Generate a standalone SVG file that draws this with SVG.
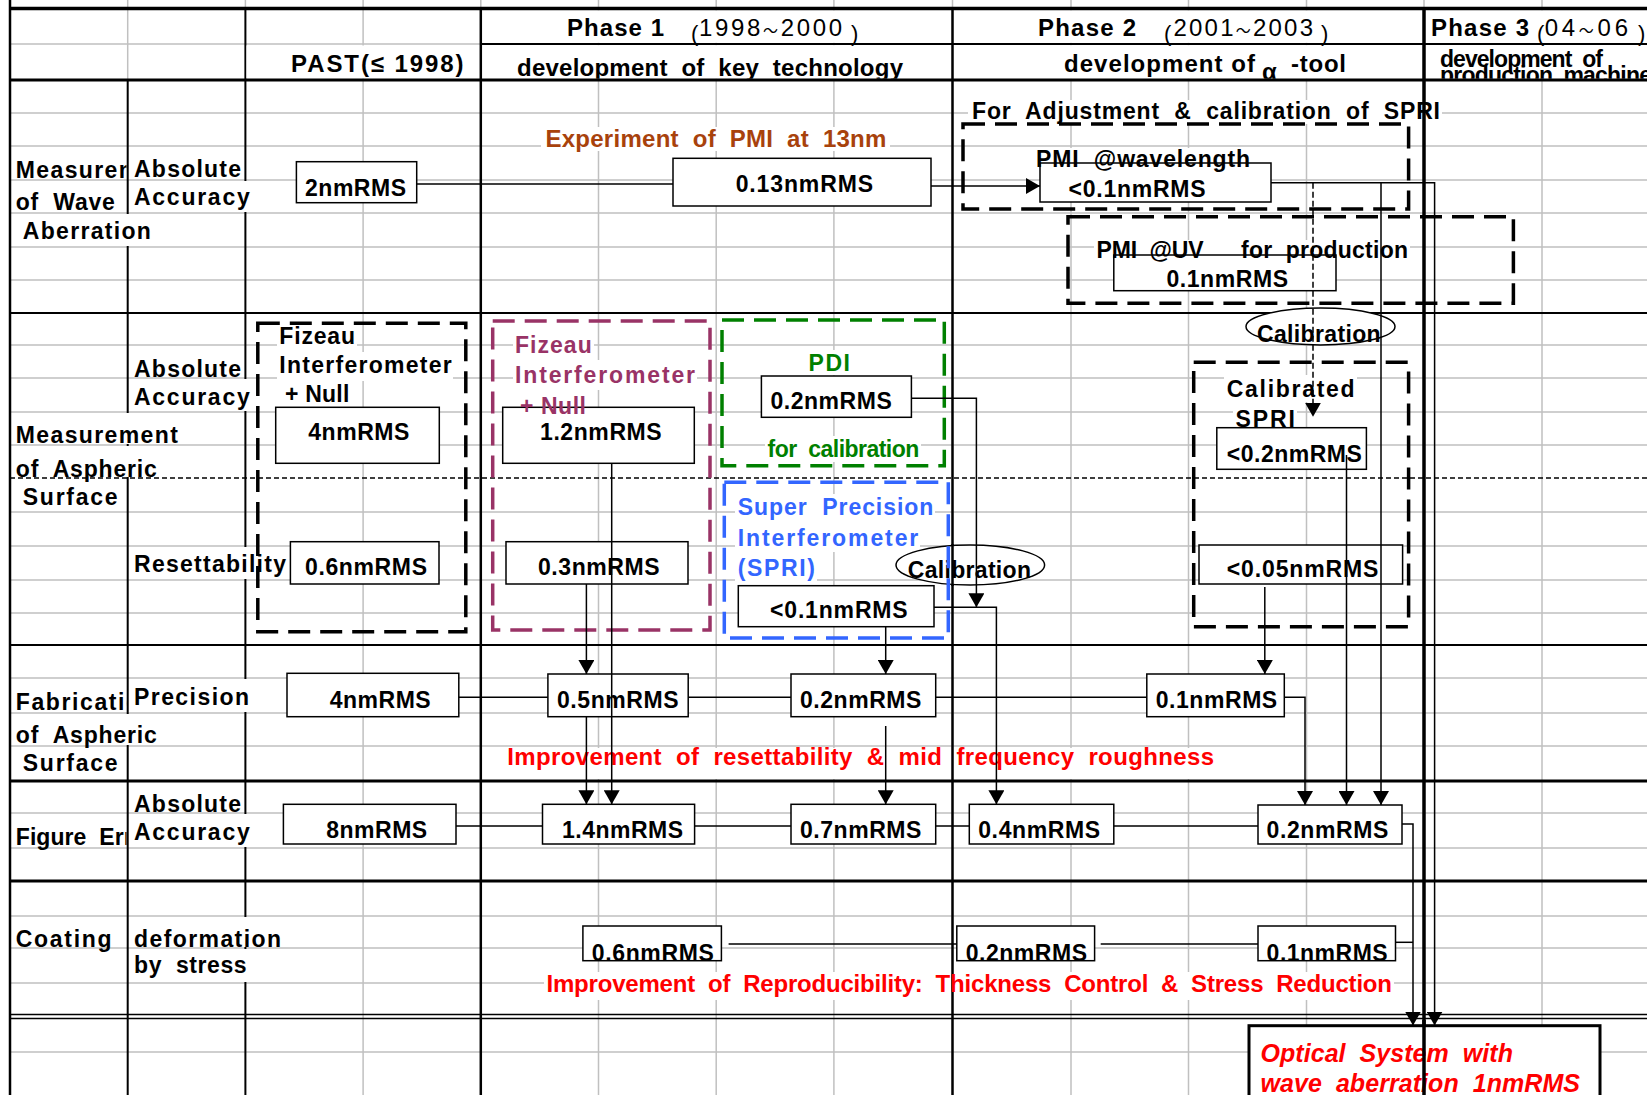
<svg xmlns="http://www.w3.org/2000/svg" width="1647" height="1095" viewBox="0 0 1647 1095" xml:space="preserve">
<defs>
<style>
.g{stroke:#C0C0C0;stroke-width:1.5;fill:none}
.k{stroke:#000;stroke-width:2;fill:none}
.m{fill:#fff;stroke:none}
.t{font-family:"Liberation Sans",Arial,"Noto Sans CJK KR",sans-serif;font-size:23px;font-weight:bold;fill:#000;white-space:pre}
.h{font-size:24px}
.n{font-weight:normal}
.ps{font-size:22px;font-weight:normal}
.tl{font-size:15px}
.box{fill:#fff;stroke:#000;stroke-width:1.5}
.cn{fill:none;stroke:#000;stroke-width:1.5}
.dash{fill:none;stroke-width:3.5;stroke-dasharray:22 10}
.red{fill:#FF0000}
.brn{fill:#A8420C}
.mag{fill:#993366}
.grn{fill:#008000}
.blu{fill:#3366FF}
</style>
<marker id="ah" viewBox="0 0 14 16" refX="14" refY="8" markerWidth="14" markerHeight="16" markerUnits="userSpaceOnUse" orient="auto"><path d="M0,0 L14,8 L0,16 z" fill="#000"/></marker>
<clipPath id="clipL"><rect x="0" y="0" width="126.5" height="1095"/></clipPath>
<clipPath id="clipH"><rect x="0" y="45" width="1647" height="33.8"/></clipPath>
</defs>
<rect x="0" y="0" width="1647" height="1095" fill="#fff"/>

<g id="grid-gray" class="g">
<path d="M127.7,0V80M363.1,0V1095M598.5,0V1095M716.2,0V1095M833.9,0V1095M1071,0V1095M1188.5,0V1095M1306.5,0V1095M1542,0V1095M245.4,0V9M480.8,0V9M952.5,0V9M1424,0V9"/>
<path d="M10,44H481M10,113H1647M10,146H1647M10,180H1647M10,213H1647M10,247H1647M10,280H1647M10,345H1647M10,378H1647M10,412H1647M10,445H1647M10,512H1647M10,546H1647M10,580H1647M10,613H1647M10,678H1647M10,713H1647M10,746H1647M10,813H1647M10,848H1647M10,916H1647M10,948H1647M10,983H1647M10,1052H1647"/>
</g>
<g id="grid-black-under" class="k">
<path d="M127.7,80V1095M245.4,8.5V1095"/>
</g>

<g id="overflow-masks" class="m">
<rect x="246.5" y="45.5" width="233" height="33"/>
<rect x="482" y="10.3" width="469.5" height="32.5"/><rect x="482" y="45.2" width="469.5" height="33.6"/>
<rect x="954" y="10.3" width="468.5" height="32.5"/><rect x="954" y="45.2" width="468.5" height="33.6"/>
<rect x="1426" y="10.3" width="221" height="32.5"/><rect x="1426" y="45.2" width="221" height="33.6"/>
<rect x="129" y="181" width="123" height="31"/>
<rect x="11" y="214" width="150" height="32"/>
<rect x="129" y="379" width="123" height="32"/>
<rect x="11" y="413" width="171" height="31"/>
<rect x="11" y="446" width="150" height="31"/>
<rect x="129" y="547" width="161" height="32"/>
<rect x="129" y="679" width="123" height="33"/>
<rect x="11" y="714" width="150" height="31"/>
<rect x="129" y="814" width="123" height="33"/>
<rect x="129" y="917" width="155" height="30"/>
<rect x="129" y="949" width="121" height="33"/>
<rect x="541" y="127" width="349" height="24"/>
<rect x="968" y="100" width="474" height="24"/>
<rect x="1033" y="148" width="220" height="15"/>
<rect x="1094" y="240" width="316" height="15"/>
<rect x="277" y="326" width="80" height="26"/><rect x="277" y="352" width="176" height="29"/><rect x="283" y="381" width="68" height="26"/>
<rect x="513" y="335" width="81" height="25"/><rect x="513" y="360" width="184" height="30"/><rect x="518" y="390" width="70" height="17"/>
<rect x="806" y="350" width="46" height="25"/><rect x="765" y="436" width="156" height="26"/>
<rect x="735" y="494" width="200" height="27"/><rect x="735" y="521" width="185" height="31"/><rect x="735" y="552" width="82" height="31"/>
<rect x="1224" y="375" width="133" height="27"/><rect x="1233" y="404" width="64" height="23"/>
<rect x="505" y="748" width="712" height="31"/>
<rect x="544" y="972" width="850" height="28"/>
</g>

<g id="grid-black" class="k">
<path d="M10,0V1095M480.8,8.5V1095M952.5,8.5V1095" stroke-width="2.5"/>
<path d="M1424,8.5V1095" stroke-width="3.5"/>
<path d="M10,8.5H1647" stroke-width="3.5"/>
<path d="M481,44H1647" stroke-width="2"/>
<path d="M10,80H1647M10,781H1647M10,881H1647" stroke-width="3"/>
<path d="M10,313H1647M10,645H1647" stroke-width="2"/>
<path d="M10,478H1647" stroke-width="1.5" stroke-dasharray="5 3"/>
<path d="M10,1014.5H1647M10,1018.5H1647" stroke-width="1.5"/>
</g>

<g id="header">
<text class="t h" x="567" y="36" textLength="97">Phase 1</text>
<text class="t ps" x="691" y="41">(</text>
<text class="t h n" x="699" y="35.5" textLength="143">1998<tspan class="tl">～</tspan>2000</text>
<text class="t ps" x="851" y="41">)</text>
<text class="t h" x="291" y="72" textLength="172.5">PAST(≤ 1998)</text>
<text class="t h" x="517" y="76" textLength="386" clip-path="url(#clipH)">development  of  key  technology</text>
<text class="t h" x="1038" y="36" textLength="98">Phase 2</text>
<text class="t ps" x="1164" y="41">(</text>
<text class="t h n" x="1173.5" y="35.5" textLength="139.5">2001<tspan class="tl">～</tspan>2003</text>
<text class="t ps" x="1321" y="41">)</text>
<g clip-path="url(#clipH)">
<text class="t h" x="1064" y="71.7" textLength="191">development of</text>
<text class="t h" x="1262" y="80">α</text>
<text class="t h" x="1291" y="71.7" textLength="55">-tool</text>
</g>
<text class="t h" x="1431" y="36" textLength="98">Phase 3</text>
<text class="t ps" x="1537" y="41">(</text>
<text class="t h n" x="1544.7" y="35.5" textLength="83.3">04<tspan class="tl">～</tspan>06</text>
<text class="t ps" x="1638" y="41">)</text>
<g clip-path="url(#clipH)">
<text class="t" x="1440" y="67" textLength="163">development  of</text>
<text class="t" x="1440" y="83" textLength="212">production  machine</text>
</g>
</g>

<g id="row-labels">
<text class="t" x="15.8" y="178" textLength="162" clip-path="url(#clipL)">Measurement</text>
<text class="t" x="15.8" y="210" textLength="99">of  Wave</text>
<text class="t" x="22.8" y="239" textLength="128">Aberration</text>
<text class="t" x="134" y="177" textLength="107">Absolute</text>
<text class="t" x="134" y="205" textLength="115.7">Accuracy</text>
<text class="t" x="134" y="376.7" textLength="107">Absolute</text>
<text class="t" x="134" y="405" textLength="115.7">Accuracy</text>
<text class="t" x="15.8" y="443" textLength="162">Measurement</text>
<text class="t" x="15.8" y="476.5" textLength="141">of  Aspheric</text>
<text class="t" x="22.8" y="505" textLength="94.7">Surface</text>
<text class="t" x="134" y="571.7" textLength="152">Resettability</text>
<text class="t" x="15.8" y="710" textLength="140" clip-path="url(#clipL)">Fabrication</text>
<text class="t" x="134" y="705" textLength="115">Precision</text>
<text class="t" x="15.8" y="743" textLength="141">of  Aspheric</text>
<text class="t" x="22.8" y="771" textLength="94.7">Surface</text>
<text class="t" x="134" y="812" textLength="107">Absolute</text>
<text class="t" x="134" y="840" textLength="115.7">Accuracy</text>
<text class="t" x="15.8" y="845" textLength="140" clip-path="url(#clipL)">Figure  Error</text>
<text class="t" x="15.8" y="946.7" textLength="95.7">Coating</text>
<text class="t" x="134" y="946.7" textLength="147">deformation</text>
<text class="t" x="134" y="973" textLength="112.6">by  stress</text>
</g>

<g id="calibration-ellipses">
<g id="calib-upper"><ellipse cx="1320.5" cy="326.5" rx="74.5" ry="18.5" fill="#fff" stroke="#000" stroke-width="1.5"/>
<text class="t" x="1257" y="341.7" textLength="123.6">Calibration</text></g>
<g id="calib-lower"><ellipse cx="970.3" cy="565" rx="74.3" ry="20" fill="#fff" stroke="#000" stroke-width="1.5"/>
<text class="t" x="907.7" y="578.3" textLength="123.3">Calibration</text></g>
</g>

<g id="pmi-adjust">
<path class="dash" stroke="#000" d="M963,124H1408.6V209H963Z"/>
<text class="t" x="972" y="119" textLength="468">For  Adjustment  &amp;  calibration  of  SPRI</text>
<rect class="box" x="1040" y="163" width="231" height="39"/>
<text class="t" x="1036" y="166.7" textLength="214">PMI  @wavelength</text>
<text class="t" x="1068.6" y="196.7" textLength="137">&lt;0.1nmRMS</text>
</g>
<g id="pmi-uv">
<path class="dash" stroke="#000" d="M1068,216.7H1513.4V303.3H1068Z"/>
<rect class="box" x="1113.8" y="255" width="222.2" height="35.7"/>
<text class="t" x="1096.6" y="258" textLength="107">PMI  @UV</text>
<text class="t" x="1241" y="258" textLength="167">for  production</text>
<text class="t" x="1166.4" y="287" textLength="121.6">0.1nmRMS</text>
</g>

<g id="past-wave"><rect class="box" x="296.4" y="161.7" width="120.3" height="41"/>
<text class="t" x="305" y="196" textLength="101">2nmRMS</text></g>
<g id="phase1-wave"><rect class="box" x="673" y="158.3" width="258" height="47.7"/>
<text class="t" x="735.7" y="191.7" textLength="137.3">0.13nmRMS</text></g>
<text id="pmi-experiment" class="t h brn" x="545.4" y="146.7" textLength="341">Experiment  of  PMI  at  13nm</text>

<g id="fizeau-past">
<path class="dash" stroke="#000" d="M257.8,323.3H465.8V631.7H257.8Z"/>
<text class="t" x="279.3" y="344.3" textLength="75.7">Fizeau</text>
<text class="t" x="279.3" y="373.3" textLength="172.4">Interferometer</text>
<text class="t" x="285" y="401.7" textLength="64.3">+ Null</text>
<rect class="box" x="275.7" y="407.3" width="163.6" height="56"/>
<text class="t" x="308.3" y="440" textLength="101">4nmRMS</text>
<rect class="box" x="290.4" y="541.7" width="148.6" height="42.3"/>
<text class="t" x="305" y="575" textLength="122">0.6nmRMS</text>
</g>

<g id="fizeau-phase1">
<path class="dash" stroke="#993366" stroke-width="3" d="M492.7,321H710V630H492.7Z"/>
<rect class="box" x="502.7" y="407.3" width="191.6" height="56"/>
<text class="t mag" x="515" y="353.3" textLength="76.7">Fizeau</text>
<text class="t mag" x="515" y="383.3" textLength="180">Interferometer</text>
<text class="t mag" x="520" y="414" textLength="66">+ Null</text>
<text class="t" x="540" y="440" textLength="121.7">1.2nmRMS</text>
<rect class="box" x="506" y="541.7" width="182" height="42.3"/>
<text class="t" x="538" y="575" textLength="121.6">0.3nmRMS</text>
</g>

<g id="pdi">
<path class="dash" stroke="#008000" stroke-width="3" d="M722,320H944.3V465.7H722Z"/>
<text class="t grn" x="808.6" y="370.7" textLength="41.4">PDI</text>
<rect class="box" x="761.4" y="376" width="150" height="41.3"/>
<text class="t" x="770.4" y="409.3" textLength="121.4">0.2nmRMS</text>
<text class="t grn" x="767.5" y="456.7" textLength="151.8">for  calibration</text>
</g>

<g id="spri">
<path class="dash" stroke="#3366FF" d="M724.3,482.3H948.3V638H724.3Z"/>
<text class="t blu" x="737.7" y="515" textLength="195.6">Super  Precision</text>
<text class="t blu" x="737.7" y="546" textLength="180.6">Interferometer</text>
<text class="t blu" x="737.7" y="576" textLength="77.3">(SPRI)</text>
<rect class="box" x="738.3" y="585.7" width="195.7" height="41"/>
<text class="t" x="770" y="618.3" textLength="137.7">&lt;0.1nmRMS</text>
</g>

<g id="calibrated-spri">
<path class="dash" stroke="#000" d="M1193.7,362.3H1408.6V626.7H1193.7Z"/>
<text class="t" x="1226.8" y="396.7" textLength="127.8">Calibrated</text>
<text class="t" x="1235.6" y="426.7" textLength="59.4">SPRI</text>
<rect class="box" x="1216.8" y="427.7" width="149.6" height="41.6"/>
<text class="t" x="1226.8" y="461.7" textLength="135">&lt;0.2nmRMS</text>
<rect class="box" x="1199" y="545" width="203.6" height="39"/>
<text class="t" x="1226.8" y="576.7" textLength="151.6">&lt;0.05nmRMS</text>
</g>

<g id="fabrication">
<g id="fab-past"><rect class="box" x="287" y="673.3" width="171.8" height="43.4"/><text class="t" x="329.7" y="707.7" textLength="101">4nmRMS</text></g>
<g id="fab-p1a"><rect class="box" x="547.9" y="674" width="140.3" height="42.7"/><text class="t" x="557" y="707.7" textLength="121.6">0.5nmRMS</text></g>
<g id="fab-p1b"><rect class="box" x="791" y="674" width="144.7" height="42.7"/><text class="t" x="800" y="707.7" textLength="121.4">0.2nmRMS</text></g>
<g id="fab-p2"><rect class="box" x="1146.8" y="674" width="137.5" height="42.7"/><text class="t" x="1155.7" y="707.7" textLength="121.5">0.1nmRMS</text></g>
<text class="t h red" x="507.3" y="765" textLength="706.7">Improvement  of  resettability  &amp;  mid  frequency  roughness</text>
</g>

<g id="figure-error">
<g id="fig-past"><rect class="box" x="283.4" y="804.3" width="172.6" height="39.7"/><text class="t" x="326.2" y="838.3" textLength="101">8nmRMS</text></g>
<g id="fig-p1a"><rect class="box" x="542.5" y="804.3" width="152.1" height="39.7"/><text class="t" x="562" y="838.3" textLength="121">1.4nmRMS</text></g>
<g id="fig-p1b"><rect class="box" x="791" y="804.3" width="144.7" height="39.7"/><text class="t" x="800" y="838.3" textLength="121.4">0.7nmRMS</text></g>
<g id="fig-p2a"><rect class="box" x="969.3" y="804.3" width="144.5" height="39.7"/><text class="t" x="978.2" y="838.3" textLength="122">0.4nmRMS</text></g>
<g id="fig-p2b"><rect class="box" x="1258" y="805" width="144" height="39"/><text class="t" x="1266.6" y="838.3" textLength="121.8">0.2nmRMS</text></g>
</g>

<g id="coating">
<g id="coat-p1"><rect class="box" x="582.9" y="926" width="138.5" height="34.7"/><text class="t" x="591.8" y="960.5" textLength="122">0.6nmRMS</text></g>
<g id="coat-p2a"><rect class="box" x="956.8" y="926" width="137.8" height="34.7"/><text class="t" x="965.7" y="960.5" textLength="121.3">0.2nmRMS</text></g>
<g id="coat-p2b"><rect class="box" x="1258" y="926" width="137.5" height="34.7"/><text class="t" x="1266.6" y="960.5" textLength="121.1">0.1nmRMS</text></g>
<text class="t h red" x="546.5" y="991.7" textLength="845.5">Improvement  of  Reproducibility:  Thickness  Control  &amp;  Stress  Reduction</text>
</g>

<g id="optical-system">
<rect x="1249" y="1025.7" width="351" height="80" fill="#fff" stroke="#000" stroke-width="3"/>
<text class="t red" style="font-style:italic;font-size:25px" x="1260.5" y="1061.7" textLength="252.5">Optical  System  with</text>
<text class="t red" style="font-style:italic;font-size:25px" x="1260.5" y="1091.7" textLength="319.5">wave  aberration  1nmRMS</text>
</g>

<g id="connectors" class="cn">
<path d="M416.7,184H673"/>
<path d="M931,186H1040" marker-end="url(#ah)"/>
<path d="M1271,182.7H1434.6V1025.5" marker-end="url(#ah)"/>
<path d="M1381,182.7V805" marker-end="url(#ah)"/>
<path d="M1313,182.7V416.7" stroke-dasharray="6 3" marker-end="url(#ah)"/>
<path d="M911.4,398.3H976.4V607.3" marker-end="url(#ah)"/>
<path d="M934,607.3H996.4V804.3" marker-end="url(#ah)"/>
<path d="M885.7,626.7V674" marker-end="url(#ah)"/>
<path d="M885.7,726V804.3" marker-end="url(#ah)"/>
<path d="M586.4,584V674" marker-end="url(#ah)"/>
<path d="M586.4,716.7V804.3" marker-end="url(#ah)"/>
<path d="M611.7,463.3V804.3" marker-end="url(#ah)"/>
<path d="M1264.8,587V674" marker-end="url(#ah)"/>
<path d="M1284.3,697.3H1305V805" marker-end="url(#ah)"/>
<path d="M1346.5,455V805" marker-end="url(#ah)"/>
<path d="M1402,824H1413V1025.5" marker-end="url(#ah)"/>
<path d="M1395.5,942.3H1413"/>
<path d="M458.8,697.3H547.9M688.2,697.3H791M935.7,697.3H1146.8"/>
<path d="M456,826H542.5M694.6,826H791M935.7,826H969.3M1113.8,826H1258"/>
<path d="M728.6,944H956.8M1100.7,944H1258"/>
</g>

<g id="top-lines" class="k">
<path d="M952.5,544V586" stroke-width="2.5"/>
<path d="M1424,1020V1095" stroke-width="3.5"/>
</g>
</svg>
